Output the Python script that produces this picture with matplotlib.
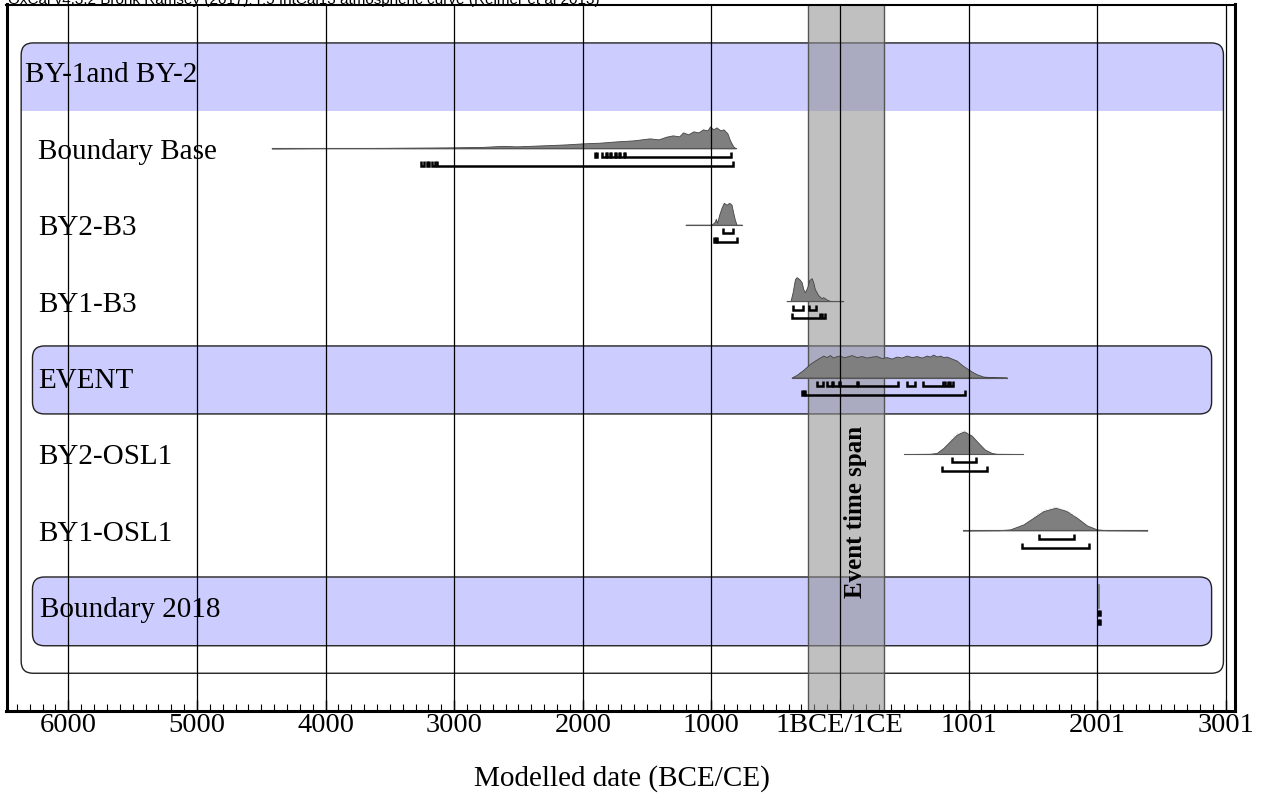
import numpy as np
import matplotlib
matplotlib.use('Agg')
import matplotlib.pyplot as plt
from matplotlib.patches import FancyBboxPatch, Rectangle

plt.rcParams['font.family'] = ['Liberation Serif', 'DejaVu Serif']

# row labels, top to bottom
labels = ['BY-1and BY-2', 'Boundary Base', 'BY2-B3', 'BY1-B3', 'EVENT',
          'BY2-OSL1', 'BY1-OSL1', 'Boundary 2018']

tick_years = [-6000, -5000, -4000, -3000, -2000, -1000, 0, 1000, 2000, 3000]
tick_labels = ['6000', '5000', '4000', '3000', '2000', '1000', '1BCE/1CE',
               '1001', '2001', '3001']

# posterior distributions (year, relative probability)
bb_years = [-4420, -3990, -3550, -3030, -2775, -2620, -2515, -2255, -2125, -2000,
            -1865, -1735, -1605, -1480, -1410, -1350, -1300, -1250, -1220, -1180,
            -1140, -1100, -1065, -1030, -1010, -985, -960, -930, -905, -875,
            -855, -830, -810]
bb_prob = [0, 0.3, 0.5, 1, 1.5, 2.5, 2, 3.3, 4, 5,
           5.7, 7, 8, 10, 9, 11.7, 13, 12, 16, 14,
           17, 16, 19, 18, 22, 19, 21, 18, 19, 15,
           8, 2, 0]

b2_years = [-1200, -998, -973, -965, -955, -939, -921, -903, -882, -861, -843,
            -830, -817, -804, -763]
b2_prob = [0, 0, 3, 6, 2, 10, 17, 22, 20, 22, 20, 12, 5, 0, 0]

b1_years = [-415, -384, -368, -350, -337, -316, -298, -285, -272, -254, -239,
            -220, -208, -195, -169, -143, -130, -104, -78, 26]
b1_prob = [0, 0.3, 9, 22, 24, 22, 19, 12, 9, 14, 21, 23, 19, 12, 6, 3, 4, 1.7,
           0.3, 0]

ev_years = [-376, -337, -285, -233, -195, -156, -130, -104, -78, -52,
            -26, 0, 26, 52, 91, 130, 169, 208, 246, 285,
            324, 363, 402, 441, 480, 519, 558, 597, 636, 675,
            700, 726, 752, 778, 804, 830, 869, 908, 947, 986,
            1025, 1064, 1115, 1193, 1297]
ev_prob = [0, 2.7, 7.7, 13.7, 17, 20, 22, 20.5, 22.5, 20,
           21.5, 22, 20.5, 21, 22.5, 20.5, 21.5, 20, 21, 21.5,
           19.5, 20.5, 19, 21, 20, 22, 20.5, 21.5, 20, 22,
           21, 23, 21, 22, 20.5, 21, 19, 17, 12.7, 9.3,
           6, 3.3, 1, 0.3, 0]

o2_years = [498, 700, 752, 804, 856, 908, 965, 1025, 1077, 1128, 1181, 1219, 1422]
o2_prob = [0, 0.2, 1, 6, 12.7, 19.3, 22.7, 18.3, 11, 4.3, 1, 0.2, 0]

o1_years = [955, 1240, 1323, 1427, 1505, 1582, 1678, 1764, 1842, 1920, 1998,
            2075, 2391]
o1_prob = [0, 0.2, 1, 6, 12.7, 19.3, 22.7, 19.3, 12.7, 5, 1, 0.2, 0]

b18_year = 2018
b18_prob = 23

# highest posterior density ranges, 68.2% and 95.4%
bb_r68 = [(-1905, -1890), (-1850, -1822), (-1815, -1788), (-1780, -1752),
          (-1745, -1718), (-1710, -1682), (-1675, -850)]
bb_r95 = [(-3255, -3238), (-3215, -3192), (-3172, -3150), (-3135, -830)]
b2_r68 = [(-913, -830)]
b2_r95 = [(-980, -962), (-958, -802)]
b1_r68 = [(-366, -288), (-241, -187)]
b1_r95 = [(-376, -156), (-143, -120)]
ev_r68 = [(-181, -130), (-104, -65), (-52, -5), (0, 135), (143, 454),
          (519, 584), (649, 804), (817, 843), (856, 882)]
ev_r95 = [(-292, -278), (-270, 975)]
o2_r68 = [(874, 1058)]
o2_r95 = [(796, 1141)]
o1_r68 = [(1549, 1821)]
o1_r95 = [(1414, 1938)]
b18_r68 = [(2008, 2026)]
b18_r95 = [(2008, 2026)]

span_start, span_end = -249, 342

S = 1 / 76.4          # probability -> row units
ASP = 0.157 / 93.3    # aspect for rounded boxes
BLUE = '#ccccff'

fig = plt.figure(figsize=(12.62, 7.99), dpi=100)
ax = fig.add_axes([6.5 / 1262, 88 / 799, 1228 / 1262, 706.5 / 799])
ax.set_xlim(-6481, 3068)
ax.set_ylim(8.364, -0.883)

# group box + header
x0, x1 = -6367, 2982
hdr = FancyBboxPatch((x0, -0.38), x1 - x0, 0.89,
                     boxstyle='round,pad=0,rounding_size=93', mutation_aspect=ASP,
                     fc=BLUE, ec='none', zorder=1)
ax.add_patch(hdr)
ax.add_patch(Rectangle((x0, 0.1), x1 - x0, 0.41, fc=BLUE, ec='none', zorder=1))
ax.add_patch(FancyBboxPatch((x0, -0.38), x1 - x0, 8.25,
                            boxstyle='round,pad=0,rounding_size=93',
                            mutation_aspect=ASP, fc='none', ec='#222222',
                            lw=1, zorder=1.2))
for top, bot in [(3.586, 4.476), (6.61, 7.51)]:
    ax.add_patch(FancyBboxPatch((-6279, top), 2890 + 6279, bot - top,
                                boxstyle='round,pad=0,rounding_size=93',
                                mutation_aspect=ASP, fc=BLUE, ec='#222222',
                                lw=1, zorder=1.1))

# event time span
ax.axvspan(span_start, span_end, color=(145 / 255,) * 3, alpha=0.57, lw=0, zorder=2)
for v in (span_start, span_end):
    ax.axvline(v, color='#555555', lw=1, zorder=2.1)
ax.text(122, 5.76, 'Event time span', rotation=90,
        ha='center', va='center', fontsize=18, fontweight='bold', zorder=6)


def draw_dist(row, years, prob):
    p = np.array(prob) * S
    ax.fill_between(years, row, row - p, color='#7f7f7f', ec='#444444', lw=0.6,
                    zorder=3)
    ax.plot([years[0], years[-1]], [row, row], color='#555555', lw=0.8, zorder=3)


def draw_ranges(row, ranges, off):
    y = row + off
    for a, b in ranges:
        ax.plot([a, a, b, b], [y - 0.065, y, y, y - 0.065], color='k', lw=1.8,
                solid_joinstyle='miter', solid_capstyle='butt', zorder=3.5)


dists = [(1, bb_years, bb_prob, bb_r68, bb_r95),
         (2, b2_years, b2_prob, b2_r68, b2_r95),
         (3, b1_years, b1_prob, b1_r68, b1_r95),
         (4, ev_years, ev_prob, ev_r68, ev_r95),
         (5, o2_years, o2_prob, o2_r68, o2_r95),
         (6, o1_years, o1_prob, o1_r68, o1_r95)]
for row, yrs, pr, r68, r95 in dists:
    draw_dist(row, yrs, pr)
    draw_ranges(row, r68, 0.11)
    draw_ranges(row, r95, 0.225)

# likelihood outlines on the OSL dates (only near the peak)
for row, yrs, pr in [(5, o2_years, o2_prob), (6, o1_years, o1_prob)]:
    yrs = np.array(yrs)
    pr = np.array(pr)
    keep = pr >= 12
    ax.plot(yrs[keep], row - pr[keep] * S - 0.01, color='#e6e6e6', lw=0.8,
            ls=(0, (2, 2)), zorder=3.2)

ax.plot([b18_year, b18_year], [7.01, 7.01 - b18_prob * S], color='#777777', lw=1.2,
        zorder=3)
draw_ranges(7, b18_r68, 0.11)
draw_ranges(7, b18_r95, 0.225)

# row labels
label_x = [-6334, -6233, -6233, -6233, -6233, -6233, -6233, -6217]
for i, (lab, lx) in enumerate(zip(labels, label_x)):
    ax.text(lx, i + 0.045, lab, ha='left', va='center', fontsize=21, zorder=5)

# grid
for v in tick_years:
    ax.axvline(v, color='k', lw=0.9, zorder=4)

ax.set_xticks(tick_years)
ax.set_xticklabels(tick_labels)
ax.set_xticks(np.arange(-6400, 3001, 100), minor=True)
ax.tick_params(axis='x', which='minor', direction='in', length=5, width=0.8)
ax.tick_params(axis='x', which='major', direction='in', length=8, width=1,
               pad=1.5, labelsize=20.5)
ax.set_yticks([])
for side in ['left', 'right', 'bottom']:
    ax.spines[side].set_linewidth(2.2)
ax.spines['top'].set_linewidth(1.5)

fig.text(0.4925, (799 - 786) / 799, 'Modelled date (BCE/CE)', ha='center',
         va='baseline', fontsize=21)
fig.text(8 / 1262, 1.0, 'OxCal v4.3.2 Bronk Ramsey (2017); r:5 IntCal13 atmospheric curve (Reimer et al 2013)',
         ha='left', va='center', fontsize=11, family='Liberation Sans')

fig.savefig('out.png', dpi=100)
